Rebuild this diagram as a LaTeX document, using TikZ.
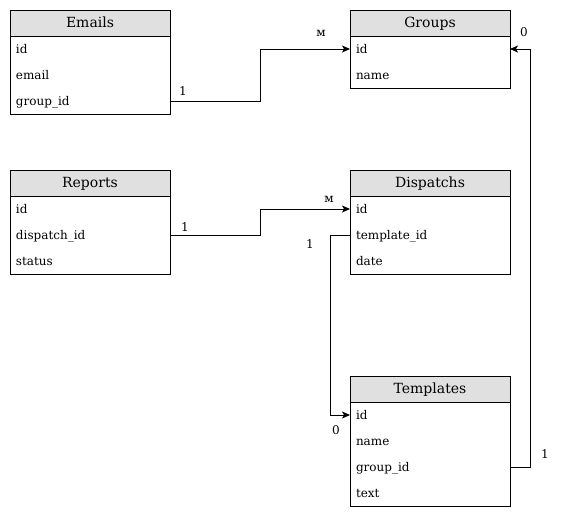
\documentclass[tikz,border=0pt]{standalone}
\usepackage{fontspec}
\setmainfont{DejaVu Serif}
\usetikzlibrary{arrows.meta}
\begin{document}
\begin{tikzpicture}[x=1pt,y=-1pt,
  hdr/.style={draw=black,fill=hdrgray,line width=1pt,anchor=north west,outer sep=0pt,
    minimum width=160pt,minimum height=26pt,inner sep=0pt,text height=10.5pt,text depth=2.5pt,
    font=\fontsize{14}{16}\selectfont},
  fld/.style={anchor=north west,outer sep=0pt,minimum height=26pt,text width=148pt,inner xsep=6pt,
    inner ysep=0pt,align=left,text height=10.5pt,text depth=1.5pt,font=\fontsize{12}{14}\selectfont},
  frame/.style={draw=black,line width=1pt},
  link/.style={draw=black,line width=1pt,-{Stealth[length=8pt,width=7pt,inset=2pt]}},
  card/.style={font=\fontsize{12}{14}\selectfont,inner sep=0pt}]
\definecolor{hdrgray}{HTML}{E0E0E0}
\useasboundingbox (0,0) rectangle (570,520);

% Emails
\node[hdr] (emails) at (10,10) {Emails};
\node[fld] (emails-id) at (10,36) {id};
\node[fld] (emails-email) at (10,62) {email};
\node[fld] (emails-gid) at (10,88) {group\_id};
\draw[frame] (emails.south west) rectangle (emails-gid.south east);

% Groups
\node[hdr] (groups) at (350,10) {Groups};
\node[fld] (groups-id) at (350,36) {id};
\node[fld] (groups-name) at (350,62) {name};
\draw[frame] (groups.south west) rectangle (groups-name.south east);

% Reports
\node[hdr] (reports) at (10,170) {Reports};
\node[fld] (reports-id) at (10,196) {id};
\node[fld] (reports-did) at (10,222) {dispatch\_id};
\node[fld] (reports-status) at (10,248) {status};
\draw[frame] (reports.south west) rectangle (reports-status.south east);

% Dispatchs
\node[hdr] (disp) at (350,170) {Dispatchs};
\node[fld] (disp-id) at (350,196) {id};
\node[fld] (disp-tid) at (350,222) {template\_id};
\node[fld] (disp-date) at (350,248) {date};
\draw[frame] (disp.south west) rectangle (disp-date.south east);

% Templates
\node[hdr] (tpl) at (350,376) {Templates};
\node[fld] (tpl-id) at (350,402) {id};
\node[fld] (tpl-name) at (350,428) {name};
\node[fld] (tpl-gid) at (350,454) {group\_id};
\node[fld] (tpl-text) at (350,480) {text};
\draw[frame] (tpl.south west) rectangle (tpl-text.south east);

% Relations
\draw[link] (emails-gid.east) -- ++(90,0) |- (groups-id.west);
\draw[link] (reports-did.east) -- ++(90,0) |- (disp-id.west);
\draw[link] (disp-tid.west) -- ++(-20,0) |- (tpl-id.west);
\draw[link] (tpl-gid.east) -- ++(20,0) |- (groups-id.east);

% Cardinalities
\node[card] (c1) at (183,91) {1};
\node[card] (c2) at (321,33) {м};
\node[card] (c3) at (185,227) {1};
\node[card] (c4) at (329,199) {м};
\node[card] (c5) at (310,244) {1};
\node[card] (c6) at (336,430) {0};
\node[card] (c7) at (545,454) {1};
\node[card] (c8) at (524,32) {0};
\end{tikzpicture}
\end{document}
